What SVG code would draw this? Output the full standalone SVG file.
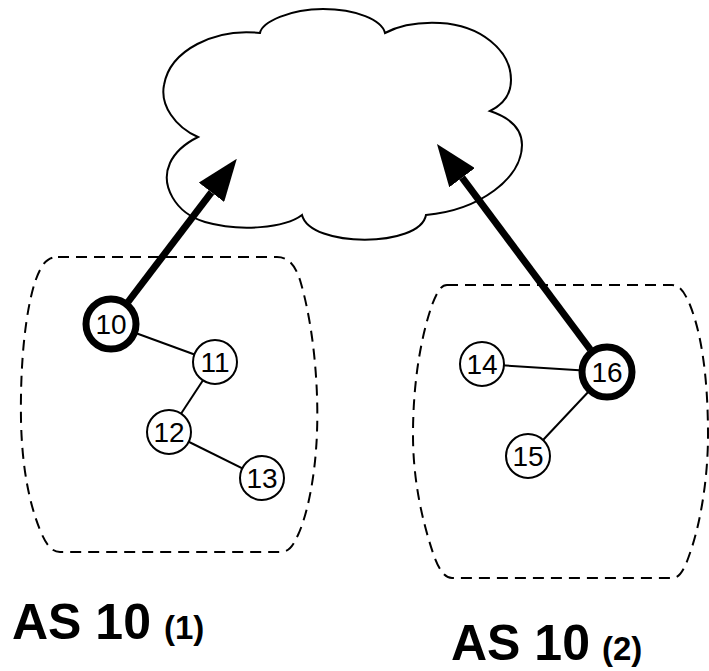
<svg xmlns="http://www.w3.org/2000/svg" width="709" height="671" viewBox="0 0 709 671">
<style>
.area{fill:none;stroke:#000;stroke-width:2;stroke-dasharray:11 7}
.cloud{fill:#fff;stroke:#000;stroke-width:2}
.edge{stroke:#000;stroke-width:2;fill:none}
.up{stroke:#000;stroke-width:7;fill:none;marker-end:url(#head)}
.node{fill:#fff;stroke:#000;stroke-width:2}
.border{fill:#fff;stroke:#000;stroke-width:7}
.num{font-family:"Liberation Sans",Arial,sans-serif;font-size:28px;text-anchor:middle;fill:#000}
.lbl{font-family:"Liberation Sans",Arial,sans-serif;font-weight:bold;fill:#000}
</style>
<defs>
<marker id="head" viewBox="0 0 42 32" refX="0" refY="16" markerWidth="42" markerHeight="32" markerUnits="userSpaceOnUse" orient="auto">
<path d="M0,0 L42,16 L0,32 Z" fill="#000"/>
</marker>
</defs>
<g id="cloud">
<path class="cloud" d="M260,33 C262,22 290,9 323,9 C356,9 382,20 385,33 C400,25 420,22 440,23 C480,25 511,50 511,80 C511,95 502,105 490,111 C508,117 522,128 522,145 C522,178 480,210 426,215 C420,248 310,248 302,215 C285,228 240,232 205,222 C175,213 160,185 170,163 C176,150 188,142 198,137 C175,127 160,105 164,85 C170,50 215,28 260,33 Z"/>
</g>
<g id="as10-1">
<path class="area" d="M58,257 L277,257 C290,257 296,268 300,280 C315,330 320,400 316,450 C313,490 305,520 298,535 C292,548 288,552 280,552 L60,552 C52,552 46,545 40,530 C30,505 22,470 21,420 C20,360 26,310 35,282 C42,262 48,257 58,257 Z"/>
<text class="lbl" x="12" y="639" font-size="50">AS 10 <tspan x="164" font-size="33">(1)</tspan></text>
</g>
<g id="as10-2">
<path class="area" d="M447,285 L672,285 C680,285 685,293 690,305 C702,335 708,380 708,435 C708,480 700,525 690,553 C685,568 680,578 673,578 L452,578 C444,578 438,568 433,553 C422,520 413,480 413,435 C413,385 420,340 432,305 C437,292 441,285 447,285 Z"/>
<text class="lbl" x="451" y="660" font-size="50">AS 10 <tspan x="602" font-size="33">(2)</tspan></text>
</g>
<g id="connectors">
<line class="edge" x1="111" y1="324" x2="215" y2="362"/>
<line class="edge" x1="215" y1="362" x2="169" y2="432"/>
<line class="edge" x1="169" y1="432" x2="262" y2="478"/>
<line class="edge" x1="482" y1="364" x2="607" y2="372"/>
<line class="edge" x1="607" y1="372" x2="528" y2="456"/>
<line class="up" x1="128" y1="302" x2="211.4" y2="192.3"/>
<line class="up" x1="590.3" y1="349.5" x2="462.1" y2="177.7"/>
</g>
<g id="n10"><circle class="border" cx="111" cy="324" r="25"/><text class="num" x="111" y="334">10</text></g>
<g id="n11"><circle class="node" cx="215" cy="362" r="22"/><text class="num" x="215" y="372">11</text></g>
<g id="n12"><circle class="node" cx="169" cy="432" r="22"/><text class="num" x="169" y="442">12</text></g>
<g id="n13"><circle class="node" cx="262" cy="478" r="22"/><text class="num" x="262" y="488">13</text></g>
<g id="n14"><circle class="node" cx="482" cy="364" r="22"/><text class="num" x="482" y="374">14</text></g>
<g id="n15"><circle class="node" cx="528" cy="456" r="22"/><text class="num" x="528" y="466">15</text></g>
<g id="n16"><circle class="border" cx="607" cy="372" r="25"/><text class="num" x="607" y="382">16</text></g>
</svg>
